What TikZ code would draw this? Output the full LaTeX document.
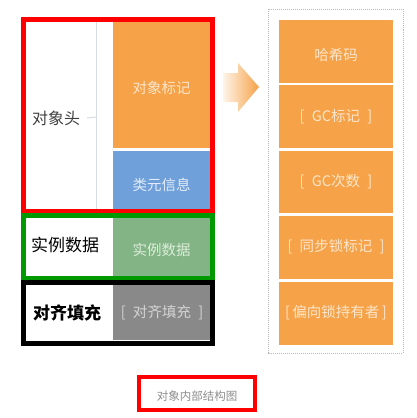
\documentclass[tikz,border=0pt]{standalone}
\usepackage{fontspec}
\setmainfont{Noto Sans CJK SC}
\usetikzlibrary{calc}
\definecolor{borange}{HTML}{F6A248}
\definecolor{bblue}{HTML}{70A0DA}
\definecolor{bgreen}{HTML}{82B485}
\definecolor{bgray}{HTML}{898989}
\definecolor{tor}{HTML}{FDE6CC}
\definecolor{tbl}{HTML}{E2ECF8}
\definecolor{tgr}{HTML}{DCEDD8}
\definecolor{tgy}{HTML}{D4D4D4}
\definecolor{fred}{HTML}{FF0000}
\definecolor{fgreen}{HTML}{009900}
\definecolor{dotc}{HTML}{B8B8C4}
\definecolor{bracec}{HTML}{D6DCE2}
\tikzset{
  blk/.style={inner sep=0pt, outer sep=0pt},
  intext/.style={font=\fontsize{14.5bp}{17bp}\selectfont},
  lbl/.style={font=\fontsize{17bp}{20bp}\selectfont},
  frame/.style={line width=5bp},
}
\begin{document}
\begin{tikzpicture}[x=1bp,y=-1bp]
\useasboundingbox (0,0) rectangle (417,418);
% left blocks
\fill[borange] (113,22) rectangle (210,148);
\fill[bblue] (113,151) rectangle (210,211);
\fill[bgreen] (113,218) rectangle (210,277);
\fill[bgray] (113,284) rectangle (210,340);
\node[intext, text=tor] (mark) at (161.5,88) {对象标记};
\node[intext, text=tbl] (klass) at (161.5,185) {类元信息};
\node[intext, text=tgr] (inst) at (161.5,250) {实例数据};
\node[intext, text=tgy] (pad) at (162,313) {[\enspace 对齐填充\enspace]};
% brace line
\coordinate (bt) at (96,22);
\coordinate (bb) at (96,210);
\coordinate (bm) at (96,117);
\coordinate (bl) at (87,118);
\draw[bracec, line width=1bp] (bt) -- (bb);
\draw[bracec, line width=1bp] (bl) -- (bm);
% left labels
\node[font=\fontsize{16bp}{19bp}\selectfont, text=black!75] (head) at (56,118) {对象头};
\node[lbl] (instl) at (65,245) {实例数据};
\node[lbl, font=\fontsize{17bp}{20bp}\selectfont\bfseries] (padl) at (67,313) {对齐填充};
% frames
\draw[frame, fred] (23.5,19.5) rectangle (212.5,211);
\draw[frame, fgreen] (23,215.8) rectangle (212.5,278.5);
\draw[frame, black] (23,282.5) rectangle (212.5,343);
% arrow
\shade[left color=borange!12, right color=borange] (223,73) -- (238,73) -- (238,63) -- (259,87) -- (238,112) -- (238,102) -- (223,102) -- cycle;
% right dotted box
\draw[dotc, line width=1bp, densely dotted] (268,9) rectangle (403,353);
\fill[borange] (279,20) rectangle (393,83);
\fill[borange] (279,85) rectangle (393,148);
\fill[borange] (279,151) rectangle (393,213);
\fill[borange] (279,216) rectangle (393,279);
\fill[borange] (279,282) rectangle (393,345);
\node[intext, text=tor] (hash) at (336,55) {哈希码};
\node[intext, text=tor] (gcm) at (336,117) {[\enspace GC标记\enspace]};
\node[intext, text=tor] (gcn) at (336,182) {[\enspace GC次数\enspace]};
\node[intext, text=tor] (lock) at (336,247) {[\enspace 同步锁标记\enspace]};
\node[intext, text=tor] (bias) at (336,313) {[\,偏向锁持有者\,]};
% caption
\draw[fred, line width=4bp] (139,377) rectangle (255,410);
\node[font=\fontsize{11.5bp}{14bp}\selectfont, text=black!45] (cap) at (197,396) {对象内部结构图};
\end{tikzpicture}
\end{document}
